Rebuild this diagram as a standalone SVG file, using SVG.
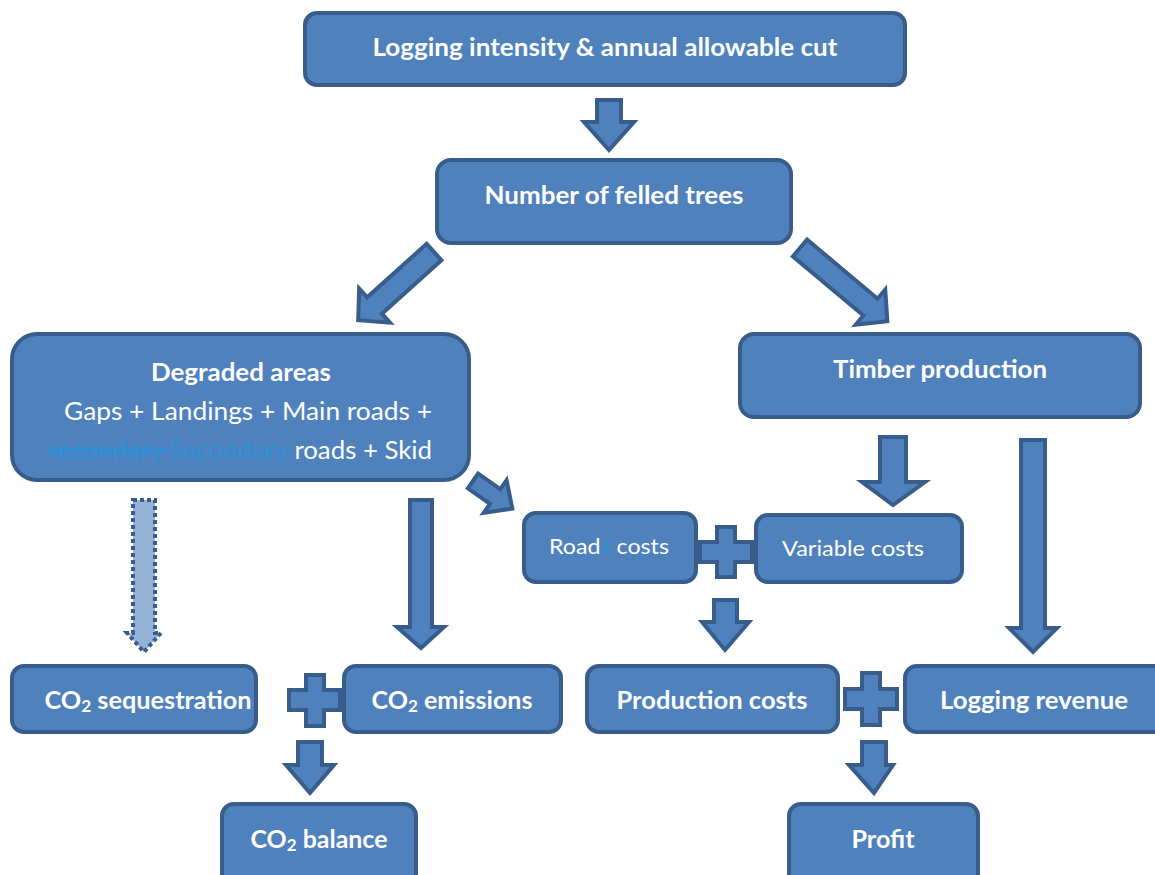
<svg xmlns="http://www.w3.org/2000/svg" width="1155" height="875" viewBox="0 0 1155 875">
<style>
.box{fill:#4F81BD;stroke:#385D8A;stroke-width:4}
.arr{fill:#4F81BD;stroke:#385D8A;stroke-width:4;stroke-linejoin:miter}
.dash{fill:#95B3D7;stroke:#385D8A;stroke-width:4;stroke-dasharray:4 3}
.b{font-family:Lato,"Liberation Sans",sans-serif;font-weight:bold;font-size:25px;fill:#FFFFFF;text-anchor:middle}
.r{font-family:Lato,"Liberation Sans",sans-serif;font-size:25px;fill:#FFFFFF}
.rs{font-family:Lato,"Liberation Sans",sans-serif;font-size:22px;fill:#FFFFFF;text-anchor:middle}
.blue{fill:#2B8FD6}
.sub{font-size:17px}
</style>
<rect width="1155" height="875" fill="#FFFFFF"/>
<g id="connectors">
<polygon class="arr" points="597,100 621,100 621,122 634,122 609,150 584,122 597,122"/>
<g transform="translate(434,252) rotate(138)"><polygon class="arr" points="0,-11 80,-11 80,-23 102,0 80,23 80,11 0,11"/></g>
<g transform="translate(800,248) rotate(40)"><polygon class="arr" points="0,-11 92,-11 92,-23 114,0 92,23 92,11 0,11"/></g>
<g transform="translate(473,481) rotate(35)"><polygon class="arr" points="0,-9 27,-9 27,-20 48,0 27,20 27,9 0,9"/></g>
<polygon class="arr" points="880,437 906,437 906,482 925,482 893,505 862,482 880,482"/>
<polygon class="arr" points="1021,440 1045,440 1045,628 1057,628 1033,652 1009,628 1021,628"/>
<polygon class="dash" points="133,500 155,500 155,633 161,633 144,652 127,633 133,633"/>
<polygon class="arr" points="410,500 432,500 432,627 444,627 421,648 397,627 410,627"/>
<polygon class="arr" points="714,600 737,600 737,622 749,622 725,650 702,622 714,622"/>
<polygon class="arr" points="298,742 322,742 322,765 334,765 310,793 286,765 298,765"/>
<polygon class="arr" points="862,742 886,742 886,765 893,765 874,793 849,765 862,765"/>
<polygon class="arr" points="717,527 735,527 735,542 752,542 752,562 735,562 735,577 717,577 717,562 700,562 700,542 717,542"/>
<polygon class="arr" points="306,675 324,675 324,690 340,690 340,710 324,710 324,726 306,726 306,710 289,710 289,690 306,690"/>
<polygon class="arr" points="862,673 880,673 880,689 897,689 897,709 880,709 880,725 862,725 862,709 845,709 845,689 862,689"/>
</g>
<g id="n-top"><rect class="box" x="305" y="13" width="600" height="72" rx="12"/><text class="b" x="605" y="56" textLength="465" lengthAdjust="spacingAndGlyphs">Logging intensity &amp; annual allowable cut</text></g>
<g id="n-felled"><rect class="box" x="437" y="160" width="354" height="83" rx="14"/><text class="b" x="614" y="204" textLength="259" lengthAdjust="spacingAndGlyphs">Number of felled trees</text></g>
<g id="n-degraded"><rect class="box" x="12" y="334" width="457" height="146" rx="25"/>
<text class="b" x="241" y="381" textLength="180" lengthAdjust="spacingAndGlyphs">Degraded areas</text>
<text class="r" x="248" y="420" text-anchor="middle" textLength="368" lengthAdjust="spacingAndGlyphs">Gaps + Landings + Main roads +</text>
<text class="r" x="48" y="459" textLength="384" lengthAdjust="spacingAndGlyphs"><tspan class="blue" text-decoration="line-through">secondary </tspan><tspan class="blue">Secondary</tspan> roads + Skid</text></g>
<g id="n-timber"><rect class="box" x="740" y="334" width="400" height="83" rx="14"/><text class="b" x="940" y="378" textLength="214" lengthAdjust="spacingAndGlyphs">Timber production</text></g>
<g id="n-roads"><rect class="box" x="524" y="513" width="172" height="69" rx="12"/><text class="rs" x="609" y="554" textLength="120" lengthAdjust="spacingAndGlyphs">Road<tspan class="blue">s</tspan> costs</text></g>
<g id="n-variable"><rect class="box" x="756" y="515" width="206" height="67" rx="12"/><text class="rs" x="853" y="556" textLength="142" lengthAdjust="spacingAndGlyphs">Variable costs</text></g>
<g id="n-seq"><rect class="box" x="12" y="666" width="244" height="66" rx="12"/><text class="b" x="148" y="709" textLength="207" lengthAdjust="spacingAndGlyphs">CO<tspan class="sub" dy="3">2</tspan><tspan dy="-3"> sequestration</tspan></text></g>
<g id="n-em"><rect class="box" x="344" y="666" width="217" height="66" rx="12"/><text class="b" x="452" y="709" textLength="161" lengthAdjust="spacingAndGlyphs">CO<tspan class="sub" dy="3">2</tspan><tspan dy="-3"> emissions</tspan></text></g>
<g id="n-prod"><rect class="box" x="587" y="666" width="251" height="66" rx="12"/><text class="b" x="712" y="709" textLength="191" lengthAdjust="spacingAndGlyphs">Production costs</text></g>
<g id="n-rev"><rect class="box" x="905" y="666" width="262" height="66" rx="12"/><text class="b" x="1034" y="709" textLength="188" lengthAdjust="spacingAndGlyphs">Logging revenue</text></g>
<g id="n-balance"><rect class="box" x="222" y="804" width="194" height="84" rx="12"/><text class="b" x="319" y="848" textLength="137" lengthAdjust="spacingAndGlyphs">CO<tspan class="sub" dy="3">2</tspan><tspan dy="-3"> balance</tspan></text></g>
<g id="n-profit"><rect class="box" x="789" y="804" width="189" height="84" rx="12"/><text class="b" x="883" y="848" textLength="63" lengthAdjust="spacingAndGlyphs">Profit</text></g>
</svg>
